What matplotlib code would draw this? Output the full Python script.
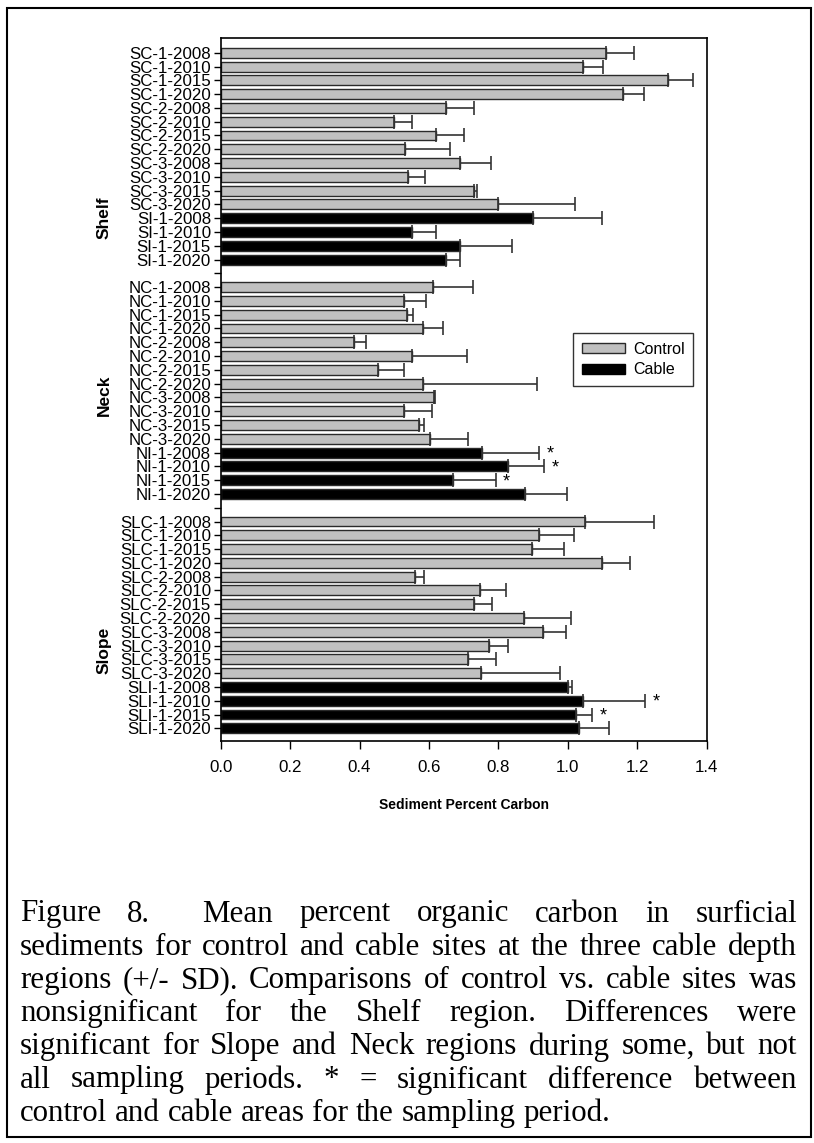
import matplotlib
matplotlib.use('Agg')
import matplotlib.pyplot as plt
from matplotlib.patches import Patch, Rectangle
import numpy as np

plt.rcParams['font.family'] = ['Liberation Sans', 'DejaVu Sans']

# ---- data ----
regions = ['Shelf', 'Neck', 'Slope']

shelf_labels = ['SC-1-2008', 'SC-1-2010', 'SC-1-2015', 'SC-1-2020',
                'SC-2-2008', 'SC-2-2010', 'SC-2-2015', 'SC-2-2020',
                'SC-3-2008', 'SC-3-2010', 'SC-3-2015', 'SC-3-2020',
                'SI-1-2008', 'SI-1-2010', 'SI-1-2015', 'SI-1-2020']
shelf_mean = [1.11, 1.045, 1.29, 1.16, 0.65, 0.50, 0.62, 0.53,
              0.69, 0.54, 0.73, 0.80, 0.90, 0.55, 0.69, 0.65]
shelf_sd = [0.08, 0.058, 0.07, 0.06, 0.08, 0.05, 0.08, 0.13,
            0.09, 0.05, 0.01, 0.22, 0.20, 0.07, 0.15, 0.04]

neck_labels = ['NC-1-2008', 'NC-1-2010', 'NC-1-2015', 'NC-1-2020',
               'NC-2-2008', 'NC-2-2010', 'NC-2-2015', 'NC-2-2020',
               'NC-3-2008', 'NC-3-2010', 'NC-3-2015', 'NC-3-2020',
               'NI-1-2008', 'NI-1-2010', 'NI-1-2015', 'NI-1-2020']
neck_mean = [0.613, 0.529, 0.538, 0.584, 0.385, 0.552, 0.454, 0.584,
             0.615, 0.529, 0.571, 0.603, 0.752, 0.828, 0.670, 0.877]
neck_sd = [0.115, 0.062, 0.015, 0.058, 0.033, 0.157, 0.073, 0.327,
           0.003, 0.079, 0.014, 0.109, 0.166, 0.104, 0.122, 0.12]

slope_labels = ['SLC-1-2008', 'SLC-1-2010', 'SLC-1-2015', 'SLC-1-2020',
                'SLC-2-2008', 'SLC-2-2010', 'SLC-2-2015', 'SLC-2-2020',
                'SLC-3-2008', 'SLC-3-2010', 'SLC-3-2015', 'SLC-3-2020',
                'SLI-1-2008', 'SLI-1-2010', 'SLI-1-2015', 'SLI-1-2020']
slope_mean = [1.05, 0.917, 0.898, 1.10, 0.561, 0.747, 0.731, 0.874,
              0.930, 0.773, 0.712, 0.749, 1.00, 1.045, 1.025, 1.033]
slope_sd = [0.20, 0.10, 0.09, 0.08, 0.026, 0.075, 0.05, 0.135,
            0.065, 0.055, 0.08, 0.23, 0.012, 0.178, 0.045, 0.086]

significant = ['NI-1-2008', 'NI-1-2010', 'NI-1-2015', 'SLI-1-2010', 'SLI-1-2015']

caption_lines = [
    "Figure 8.  Mean percent organic carbon in surficial",
    "sediments for control and cable sites at the three cable depth",
    "regions (+/- SD). Comparisons of control vs. cable sites was",
    "nonsignificant for the Shelf region. Differences were",
    "significant for Slope and Neck regions during some, but not",
    "all sampling periods. * = significant difference between",
    "control and cable areas for the sampling period.",
]

GRAY = '#c0c0c0'
EDGE = '#2a2a2a'

fig = plt.figure(figsize=(8.14, 11.43), dpi=100)
W, H = 814, 1143

# outer border of the figure panel
fig.patches.append(Rectangle((7 / W, 1 - 1137 / H), 804 / W, 1129 / H,
                             transform=fig.transFigure, fill=False,
                             edgecolor='black', lw=1.5))

ax = fig.add_axes([220.7 / W, 1 - 741 / H, 485.8 / W, 703 / H])

groups = [(shelf_labels, shelf_mean, shelf_sd),
          (neck_labels, neck_mean, neck_sd),
          (slope_labels, slope_mean, slope_sd)]

ticks, ticklabels = [], []
pos = 0
for gi, (labs, m, sd) in enumerate(groups):
    y = np.arange(pos, pos + len(labs))
    # cable (impact) sites are the black bars: SI / NI / SLI
    cols = ['black' if l.split('-')[0].endswith('I') else GRAY for l in labs]
    ax.barh(y, m, height=0.72, color=cols, edgecolor=EDGE, linewidth=1.0, zorder=2)
    ax.errorbar(m, y, xerr=[np.zeros(len(sd)), sd], fmt='none', ecolor='#333333',
                elinewidth=1.2, capsize=4.7, capthick=1.2, zorder=3)
    for yi, l, mi, si in zip(y, labs, m, sd):
        if l in significant:
            ax.annotate('*', (mi + si, yi), xytext=(8, -1), textcoords='offset points',
                        ha='center', va='center', fontsize=13)
    ticks += list(y)
    ticklabels += labs
    pos += len(labs)
    if gi < len(groups) - 1:
        ticks.append(pos)
        ticklabels.append('')
        pos += 1

ax.set_ylim(49.92, -1.07)
ax.set_xlim(0, 1.4)
ax.set_yticks(ticks)
ax.set_yticklabels(ticklabels, fontsize=12.2)
ax.set_xticks(np.arange(0, 1.41, 0.2))
ax.set_xticklabels(['%.1f' % v for v in np.arange(0, 1.41, 0.2)], fontsize=12.2)
ax.tick_params(axis='y', direction='out', length=5, width=1.0, pad=2)
ax.tick_params(axis='x', direction='out', length=6, width=1.0, pad=8)
for s in ax.spines.values():
    s.set_linewidth(1.2)
ax.set_xlabel('Sediment Percent Carbon', fontsize=10, fontweight='bold', labelpad=16)

# region labels
label_y = [218, 395, 650]
for name, yy in zip(regions, label_y):
    fig.text(104 / W, 1 - yy / H, name, rotation=90, ha='center', va='center',
             fontsize=12.5, fontweight='bold')

leg = ax.legend(handles=[Patch(facecolor=GRAY, edgecolor=EDGE, label='Control'),
                         Patch(facecolor='black', edgecolor='black', label='Cable')],
                loc='upper left', bbox_to_anchor=(573 / W, 1 - 333 / H),
                bbox_transform=fig.transFigure, borderaxespad=0, fontsize=11.5,
                fancybox=False, edgecolor='#333333', framealpha=1, handlelength=2.7,
                handleheight=0.6, borderpad=0.55, labelspacing=0.35, handletextpad=0.5)
leg.get_frame().set_linewidth(1.0)

# justified caption
cap_font = dict(family=['Liberation Serif', 'DejaVu Serif'], fontsize=22.3)
x0, x1 = 20, 797
y0, dy = 914, 33.2
renderer = fig.canvas.get_renderer()
for i, line in enumerate(caption_lines):
    words = line.split(' ')
    texts, widths = [], []
    for w in words:
        t = fig.text(0, 0, w, va='center', ha='left', **cap_font)
        texts.append(t)
        widths.append(t.get_window_extent(renderer).width if w else 0)
    sp = fig.text(0, 0, 'a b', **cap_font)
    sp2 = fig.text(0, 0, 'ab', **cap_font)
    space = sp.get_window_extent(renderer).width - sp2.get_window_extent(renderer).width
    sp.remove()
    sp2.remove()
    if i < len(caption_lines) - 1:
        gap = (x1 - x0 - sum(widths)) / (len(words) - 1)
    else:
        gap = space
    x = x0
    for t, w in zip(texts, widths):
        t.set_position((x / W, 1 - (y0 + i * dy) / H))
        x += w + gap

fig.savefig('out.png', dpi=100)
